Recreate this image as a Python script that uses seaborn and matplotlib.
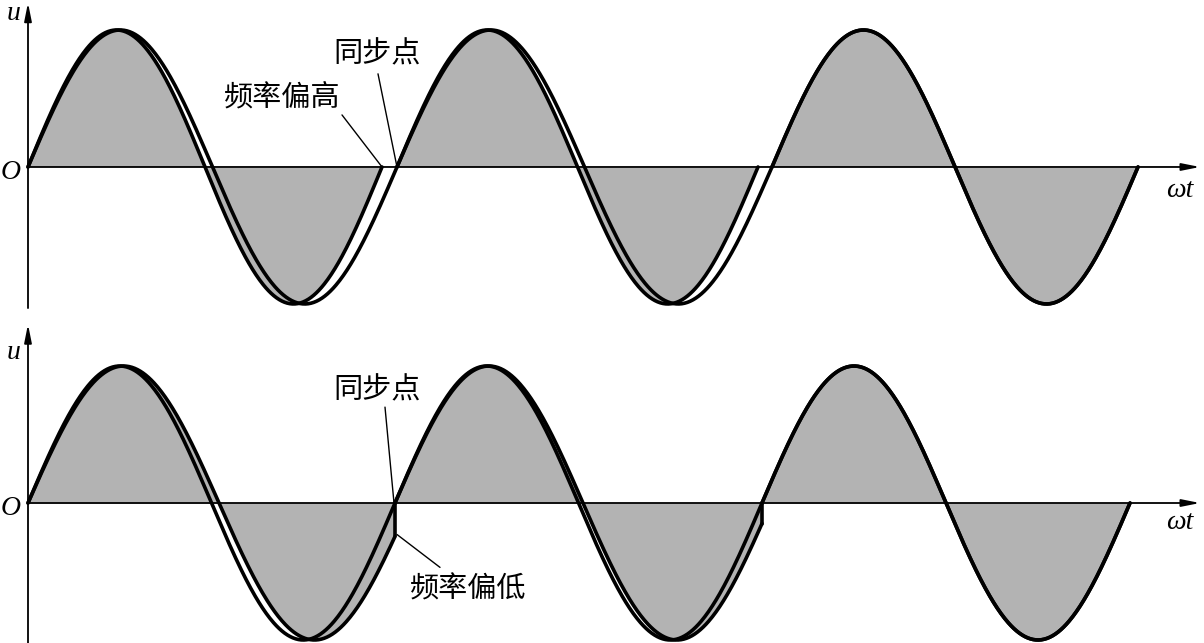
import numpy as np
import pandas as pd
import seaborn as sns
import matplotlib.pyplot as plt

# synchronisation points (omega*t units) and period of the shaded wave in each cycle
top_sync = [0, 369, 744, 1110]
top_gray_period = [354, 361, 366]      # frequency too high -> finishes early
bottom_sync = [0, 367, 734, 1102]
bottom_gray_period = [382, 376, 368]   # frequency too low -> cut at sync point

sns.set_theme(style="white")
plt.rcParams['font.family'] = ['Noto Sans CJK SC', 'DejaVu Sans']

GRAY = "#b3b3b3"
LW = 2.6


def build_cycles(sync, gray_period, high):
    ref_parts, gray_parts, cuts = [], [], []
    for i in range(len(sync) - 1):
        s, e = sync[i], sync[i + 1]
        pg = gray_period[i]
        x = np.linspace(s, e, 400)
        ref_parts.append(pd.DataFrame({"x": x, "y": np.sin(2 * np.pi * (x - s) / (e - s)), "seg": i}))
        if high:
            xg = np.linspace(s, s + pg, 400)
        else:
            xg = np.linspace(s, e, 400)
            cuts.append((e, np.sin(2 * np.pi * (e - s) / pg)))
        gray_parts.append(pd.DataFrame({"x": xg, "y": np.sin(2 * np.pi * (xg - s) / pg), "seg": i}))
    return pd.concat(ref_parts), pd.concat(gray_parts), cuts


def draw_panel(ax, sync, gray_period, high, ylim):
    ref, gray, cuts = build_cycles(sync, gray_period, high)
    for seg, d in gray.groupby("seg"):
        ax.fill_between(d["x"], 0, d["y"], color=GRAY, lw=0, zorder=1)
    sns.lineplot(data=ref, x="x", y="y", units="seg", estimator=None, sort=False,
                 color="black", lw=LW, ax=ax, zorder=3)
    sns.lineplot(data=gray, x="x", y="y", units="seg", estimator=None, sort=False,
                 color="black", lw=LW, ax=ax, zorder=3)
    for xc, yc in cuts:
        ax.plot([xc, xc], [yc, 0], color="black", lw=LW, zorder=3)

    # axes with arrows
    ax.annotate("", xy=(1172, 0), xytext=(0, 0),
                arrowprops=dict(arrowstyle="-|>,head_length=0.9,head_width=0.18",
                                color="black", lw=1.3, shrinkA=0, shrinkB=0), zorder=2)
    ax.annotate("", xy=(0, ylim[1] - 0.02), xytext=(0, -1.03),
                arrowprops=dict(arrowstyle="-|>,head_length=0.9,head_width=0.18",
                                color="black", lw=1.3, shrinkA=0, shrinkB=0), zorder=4)
    ax.set_xlim(-28, 1176)
    ax.set_ylim(*ylim)
    ax.axis("off")


fig = plt.figure(figsize=(12.04, 6.43), dpi=100)
ax_top = fig.add_axes([0, 0.5, 1, 0.5])
ax_bot = fig.add_axes([0, 0, 1, 0.5])

draw_panel(ax_top, top_sync, top_gray_period, True, (-1.128, 1.219))
draw_panel(ax_bot, bottom_sync, bottom_gray_period, False, (-1.022, 1.325))

serif = dict(family="Liberation Serif", style="italic", fontsize=20, color="black")
for ax, uy, wy in [(ax_top, 1.12, -0.17), (ax_bot, 1.10, -0.14)]:
    ax.text(-8, uy, "u", ha="right", va="center", **serif)
    ax.text(-7, -0.04, "O", ha="right", va="center", **serif)
    ax.text(1152, wy, "ωt", ha="center", va="center", **serif)

txt = dict(fontsize=21, ha="center", va="center", color="black")
leader = dict(color="black", lw=1.0)

ax_top.text(349, 0.82, "同步点", **txt)
ax_top.plot([350, 369], [0.68, 0], **leader)
ax_top.text(254, 0.51, "频率偏高", **txt)
ax_top.plot([314, 354], [0.38, 0], **leader)

ax_bot.text(349, 0.82, "同步点", **txt)
ax_bot.plot([357, 366], [0.70, 0], **leader)
ax_bot.text(440, -0.635, "频率偏低", **txt)
ax_bot.plot([369, 412], [-0.23, -0.47], **leader)

fig.savefig("out.png", dpi=100)
